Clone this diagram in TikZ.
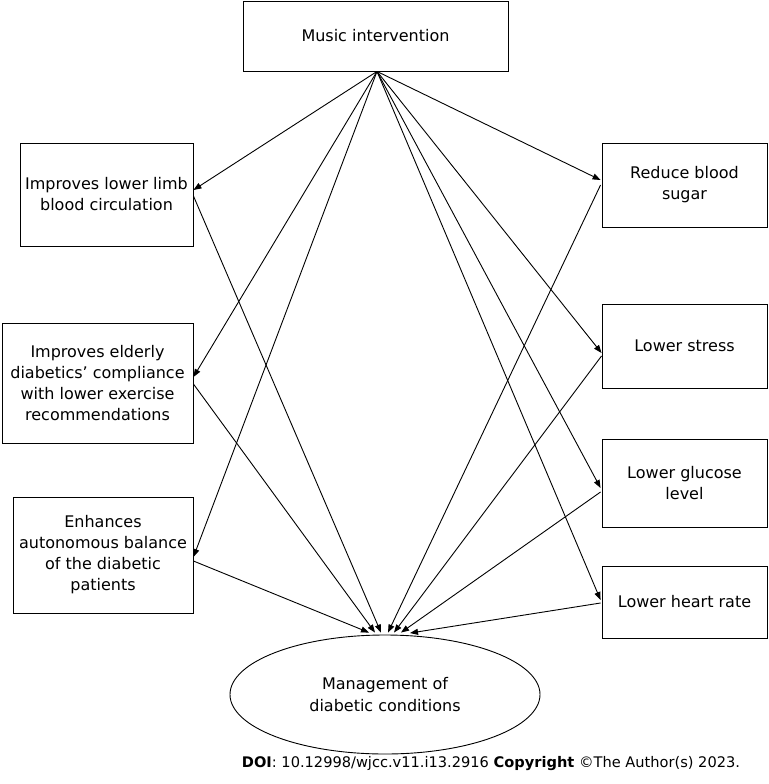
\documentclass[tikz,border=0pt]{standalone}
\usepackage{fontspec}
\setmainfont{DejaVu Sans}
\usetikzlibrary{shapes.geometric,arrows.meta,calc}
\begin{document}
\begin{tikzpicture}[x=1pt,y=-1pt,
  box/.style={draw,line width=0.9pt,inner sep=0pt,align=center,font=\fontsize{16}{21}\selectfont},
  arr/.style={line width=0.9pt,-{Triangle[length=8pt,width=6pt]}}]
\useasboundingbox (0,0) rectangle (768,784);
\node[box,minimum width=265,minimum height=70] (mi) at (375.5,36) {Music intervention};
\node[box,minimum width=173,minimum height=103] (b1) at (106.5,194.5) {Improves lower limb\\blood circulation};
\node[box,minimum width=191,minimum height=120] (b2) at (97.5,383) {Improves elderly\\diabetics’ compliance\\with lower exercise\\recommendations};
\node[box,minimum width=180,minimum height=116] (b3) at (103,555) {Enhances\\autonomous balance\\of the diabetic\\patients};
\node[box,minimum width=165,minimum height=84] (r1) at (684.5,185) {Reduce blood\\sugar};
\node[box,minimum width=165,minimum height=84] (r2) at (684.5,346) {Lower stress};
\node[box,minimum width=165,minimum height=88] (r3) at (684.5,483) {Lower glucose\\level};
\node[box,minimum width=165,minimum height=72] (r4) at (684.5,602) {Lower heart rate};
\node[box,ellipse,minimum width=310,minimum height=119,font=\fontsize{16}{22}\selectfont] (mg) at (385,694.5) {Management of\\diabetic conditions};
\node[font=\fontsize{14.6}{17}\selectfont,inner sep=0pt] (doi) at (491,764) {\textbf{DOI}: 10.12998/wjcc.v11.i13.2916 \textbf{Copyright} ©The Author(s) 2023.};
\coordinate (o) at ($(mi.south)+(1.5,0)$);
\draw[arr] (o) -- ($(b1.east)+(0,-4.5)$);
\draw[arr] (o) -- ($(b2.east)+(0,-6)$);
\draw[arr] (o) -- ($(b3.east)+(0,2)$);
\draw[arr] (o) -- ($(r1.west)+(-1,-5)$);
\draw[arr] (o) -- ($(r2.west)+(0,7)$);
\draw[arr] (o) -- ($(r3.west)+(-1,5)$);
\draw[arr] (o) -- ($(r4.west)+(-1,-2)$);
\draw[arr] ($(b1.east)+(0,1.5)$) -- ($(mg.north)+(-4,-2)$);
\draw[arr] ($(b2.east)+(0,1)$) -- ($(mg.north)+(-10,-2)$);
\draw[arr] ($(b3.east)+(0,6)$) -- ($(mg.north)+(-16,-2)$);
\draw[arr] ($(r1.west)+(-1,0)$) -- ($(mg.north)+(3,-2)$);
\draw[arr] ($(r2.west)+(0,10)$) -- ($(mg.north)+(9,-2)$);
\draw[arr] ($(r3.west)+(-1,9)$) -- ($(mg.north)+(16,-2)$);
\draw[arr] ($(r4.west)+(-1,1)$) -- ($(mg.north)+(25,-1.5)$);
\end{tikzpicture}
\end{document}
